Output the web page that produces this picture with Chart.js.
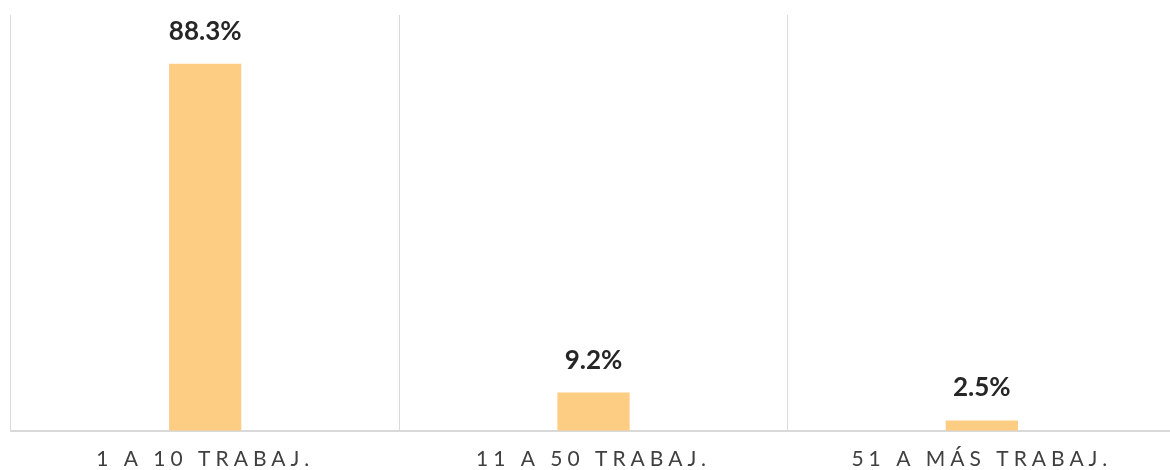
<!DOCTYPE html>
<html>
<head>
<meta charset="utf-8">
<script src="https://cdn.jsdelivr.net/npm/chart.js@4"></script>
<style>
  html, body { margin: 0; padding: 0; background: #fff; overflow: hidden; }
  #wrap { width: 1170px; height: 470px; overflow: hidden; }
</style>
</head>
<body>
<div id="wrap"><canvas id="chart" width="1176" height="470"></canvas></div>
<script>
const categories = ["1 A 10 TRABAJ.", "11 A 50 TRABAJ.", "51 A MÁS TRABAJ."];
const shares = [88.3, 9.2, 2.5];
const yMax = 100;

const barColor = "#FECD84";
const gridColor = "#D9D9D9";

// letter-spaced axis labels, then reset before the value labels
const spacingPlugin = {
  id: "spacing",
  beforeDraw(chart) {
    chart.ctx.letterSpacing = "5px";
  },
  beforeDatasetsDraw(chart) {
    chart.ctx.letterSpacing = "0px";
  }
};

const valueLabels = {
  id: "valueLabels",
  afterDatasetsDraw(chart) {
    const ctx = chart.ctx;
    ctx.save();
    ctx.letterSpacing = "0px";
    ctx.font = "bold 26px Lato";
    ctx.fillStyle = "#262626";
    ctx.textAlign = "center";
    ctx.textBaseline = "alphabetic";
    chart.getDatasetMeta(0).data.forEach((bar, i) => {
      ctx.fillText(shares[i].toFixed(1) + "%", bar.x, bar.y - 24);
    });
    ctx.restore();
  }
};

new Chart(document.getElementById("chart"), {
  type: "bar",
  data: {
    labels: categories,
    datasets: [{
      data: shares,
      backgroundColor: barColor,
      borderWidth: 0,
      barPercentage: 0.186,
      categoryPercentage: 1
    }]
  },
  options: {
    responsive: false,
    animation: false,
    layout: { padding: { left: 11, top: 15, right: 0, bottom: -18 } },
    plugins: { legend: { display: false }, tooltip: { enabled: false } },
    scales: {
      x: {
        grid: { color: gridColor, lineWidth: 1, drawTicks: false, offset: true },
        border: { color: gridColor, width: 2 },
        ticks: { color: "#404040", font: { family: "Lato", size: 21 }, padding: 16 }
      },
      y: {
        display: false,
        min: 0,
        max: yMax
      }
    }
  },
  plugins: [spacingPlugin, valueLabels]
});
</script>
</body>
</html>
